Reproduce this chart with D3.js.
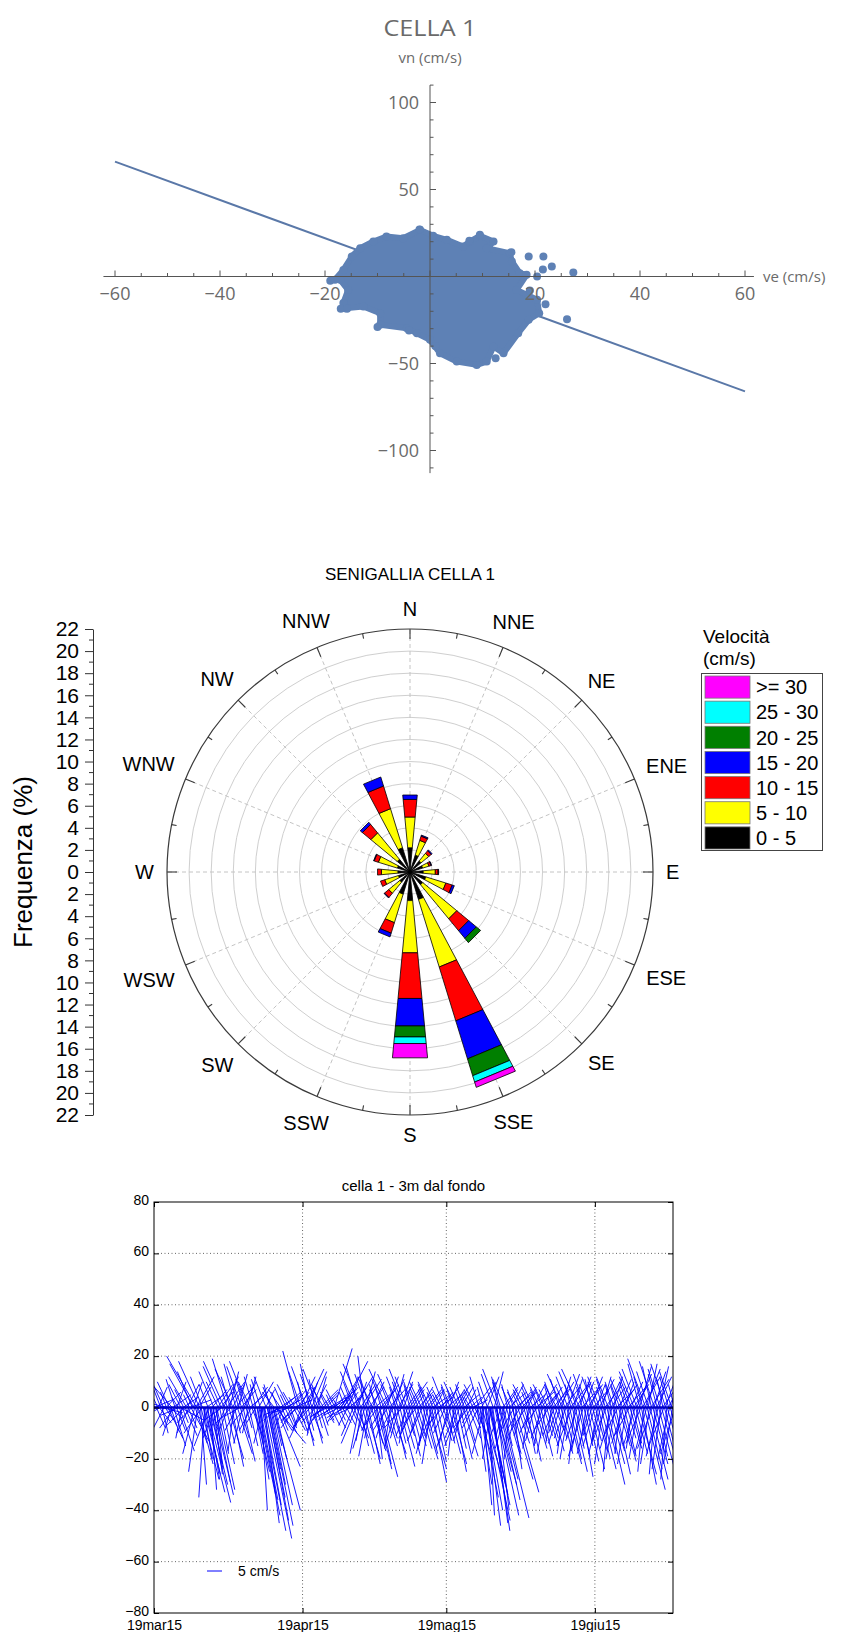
<!DOCTYPE html>
<html>
<head>
<meta charset="utf-8">
<script src="https://cdn.jsdelivr.net/npm/d3@7"></script>
<style>
  body { margin: 0; background: #fff; }
  svg { display: block; }
</style>
</head>
<body>
<div id="chart"></div>
<script>
// ---------- scatter data (cm/s) ----------
var cloudOutline = [
  [-18.1,-1.9],[-16.5,3.8],[-14.9,11.5],[-13.3,16.3],[-10.8,20.1],[-8.3,23.0],[-5.1,22.0],
  [-1.9,26.8],[0.6,23.4],[3.2,21.1],[6.3,17.2],[7.6,20.1],[9.5,23.4],[12.1,20.1],[10.8,16.3],
  [15.2,13.4],[15.6,8.6],[17.1,1.9],[18.4,1.0],[16.5,-7.7],[20.4,-13.4],[20.8,-21.1],[18.8,-24.9],
  [16.8,-32.6],[14.0,-44.1],[12.1,-40.2],[10.8,-48.9],[8.9,-50.8],[5.1,-48.9],[1.9,-44.1],
  [0,-36.4],[-2.5,-32.6],[-4.4,-29.7],[-9.5,-27.8],[-9.5,-21.1],[-12.7,-17.2],[-16.2,-18.2],
  [-16.5,-15.3],[-15.6,-7.7],[-17.1,-1.9]
];
var outlierDots = [
  [18.8,11.5],[21.6,11.5],[23.2,5.7],[21.5,4],[27.3,2.3],[20.4,0],[26.1,-24.5],[19,-8],[22,-16],
  [-19,-2.5],[-17,-18.5],[-15.8,-18.5],[12.5,-47],[-10,-29],[-4,-31],[1,-40],[9.5,24],[7.5,20.5],
  [-2,27],[15.5,14]
];
var fitLineVe = [-60, 60];
var fitLineVn = [66, -66];
var scatterXTicks = [-60, -40, -20, 20, 40, 60];
var scatterYTicks = [100, 50, -50, -100];

// ---------- wind rose data (% per direction and speed class) ----------
var directions = ["N","NNE","NE","ENE","E","ESE","SE","SSE","S","SSW","SW","WSW","W","WNW","NW","NNW"];
var speedKeys = ["0 - 5","5 - 10","10 - 15","15 - 20","20 - 25","25 - 30",">= 30"];
var speedColors = ["#000000","#ffff00","#ff0000","#0000ff","#007f00","#00ffff","#ff00ff"];
var freq0_5   = [2.2, 1.6, 1.3, 1.2, 1.2, 1.5, 1.5, 2.6, 2.6, 2.1, 1.2, 1.1, 1.1, 1.2, 1.5, 2.3];
var freq5_10  = [2.8, 1.4, 0.9, 0.6, 1.1, 1.9, 4.0, 6.4, 4.75, 2.7, 1.3, 1.3, 1.5, 1.8, 3.1, 3.7];
var freq10_15 = [1.6, 0.4, 0.3, 0.2, 0.25, 0.6, 1.4, 5.1, 4.15, 1.0, 0.5, 0.4, 0.35, 0.4, 1.0, 2.15];
var freq15_20 = [0.4, 0.1, 0.1, 0.05, 0.05, 0.2, 0.9, 3.6, 2.5, 0.35, 0.05, 0, 0, 0.05, 0.25, 0.85];
var freq20_25 = [0, 0, 0, 0, 0, 0, 0.5, 1.6, 1.0, 0, 0, 0, 0, 0, 0, 0];
var freq25_30 = [0, 0, 0, 0, 0, 0, 0, 0.6, 0.6, 0, 0, 0, 0, 0, 0, 0];
var freqGe30  = [0, 0, 0, 0, 0, 0, 0, 0.5, 1.3, 0, 0, 0, 0, 0, 0, 0];

// ---------- stick plot data: [day from 19mar15, ve, vn] ----------
var timeTickDates = ["2015-03-19","2015-04-19","2015-05-19","2015-06-19"];
var timeTickLabels = ["19mar15","19apr15","19mag15","19giu15"];
var sticks = [
[0.2,-4,7],[0.5,3,-8],[0.8,-2,5],[1.1,4,-6],[1.4,-3,9],[1.7,2,-10],[2.0,-5,13],[2.3,3,-5],[2.6,-2,6],[2.9,5,-12],
[3.2,-4,10],[3.5,2,-7],[3.8,-6,8],[4.1,4,-15],[4.4,-3,11],[4.7,3,-9],[5.0,-2,4],[5.3,5,-17],[5.6,-4,9],[5.9,2,-6],
[6.2,-3,7],[6.5,4,-11],[6.8,-6,12],[7.1,3,-8],[7.4,-2,5],[7.7,6,-13],[8.0,-5,14],
[8.3,-8,17],[8.6,4,-14],[8.9,-10,20],[9.2,5,-22],[9.5,-7,18],[9.8,6,-28],[10.1,-4,12],[10.4,7,-33],[10.7,5,-26],[11.0,8,-37],
[11.3,-3,9],[11.6,6,-30],[11.9,4,-24],[12.2,7,-34],[12.5,-5,14],[12.8,5,-29],[13.1,6,-32],[13.4,-4,10],[13.7,3,-18],[14.0,-6,16],[14.3,4,-22],
[14.7,-7,18],[15.0,3,-14],[15.3,-5,19],[15.6,5,-20],[15.9,-3,12],[16.2,4,-23],[16.5,-6,15],[16.8,2,-10],[17.1,-4,17],[17.4,5,-18],
[17.7,-2,8],[18.0,3,-12],[18.3,-5,16],[18.6,4,-21],[18.9,-3,11],[19.2,2,-8],[19.5,-6,18],[19.8,3,-15],
[20.1,-4,10],[20.4,4,-12],[20.7,-3,12],[21.0,5,-25],[21.3,-2,9],[21.6,6,-34],[21.9,7,-42],[22.2,-3,11],[22.5,8,-48],[22.8,6,-38],
[23.1,9,-51],[23.4,-4,12],[23.7,7,-44],[24.0,8,-46],[24.3,5,-30],[24.6,-3,8],[24.9,9,-40],[25.2,4,-20],[25.5,8,-23],[25.8,-2,6],
[26.1,3,-9],[26.4,-4,7],[26.7,2,-6],[27.0,-3,8],[27.3,4,-10],[27.6,-2,5],[27.9,3,-8],[28.2,-4,9],[28.5,2,-7],[28.8,-3,6],
[29.1,4,-9],[29.4,-2,4],[29.7,3,-6],
[30.0,-5,22],[30.3,3,-10],[30.6,-4,14],[30.9,4,-13],[31.2,-2,10],[31.5,3,-15],[31.8,-5,16],[32.1,2,-9],[32.4,-3,17],[32.7,4,-12],
[33.0,-4,13],[33.3,3,-14],[33.6,-2,11],[33.9,2,-8],[34.2,-5,15],[34.5,3,-11],[34.8,-3,9],[35.1,2,-7],[35.4,-4,8],[35.7,3,-6],[36.0,-2,5],
[36.3,2,-5],[36.6,-3,6],[36.9,3,-7],[37.2,-2,5],[37.6,6,23],[37.8,-3,7],[38.1,3,-8],[38.4,-2,4],[38.7,2,-5],[39.0,6,12],
[39.3,3,-6],[39.6,8,18],[39.9,-2,6],[40.2,3,-7],[40.5,3,9],[40.8,-3,8],[41.1,2,-5],
[41.4,-3,10],[41.7,3,-9],[42.0,-5,14],[42.3,4,-12],[42.6,-4,16],[42.9,3,-15],[43.2,-6,17],[43.5,4,-18],[43.8,-2,20],[44.1,5,-20],
[44.4,-4,13],[44.7,4,-22],[45.0,-3,11],[45.3,5,-17],[45.6,-5,12],[45.9,3,-14],[46.2,-2,9],[46.5,5,-24],[46.8,-3,7],[47.1,6,-27],[47.4,-2,8],
[47.7,3,-10],[48.0,-4,11],[48.3,4,-15],[48.6,-6,15],[48.9,3,-12],[49.2,-3,9],[49.5,5,-18],[49.8,-5,13],[50.1,4,-20],[50.4,-2,8],
[50.7,3,-14],[51.0,-4,12],[51.3,5,-23],[51.6,-3,10],[51.9,4,-16],[52.2,-5,15],[52.5,3,-11],[52.8,-4,12],[53.1,4,-19],[53.4,-2,9],
[53.7,3,-13],[54.0,-3,10],[54.3,4,-15],[54.6,-2,6],
[54.9,3,-12],[55.2,-3,8],[55.5,4,-16],[55.8,-4,10],[56.1,5,-20],[56.4,-2,7],[56.7,4,-18],[57.0,-3,9],[57.3,6,-24],[57.6,-4,10],
[57.9,5,-29],[58.2,-2,6],[58.5,4,-21],[58.8,-3,8],[59.1,3,-15],[59.4,-2,5],[59.7,4,-13],[60.0,-3,7],[60.3,3,-10],
[60.6,-4,12],[60.9,3,-14],[61.2,-2,8],[61.5,4,-18],[61.8,-3,9],[62.1,5,-22],[62.4,-2,7],[62.7,4,-25],[63.0,-4,10],[63.3,3,-16],
[63.6,-3,8],[63.9,4,-20],[64.2,-2,6],[64.5,5,-19],[64.8,-3,9],[65.1,3,-13],[65.4,-2,5],[65.7,4,-12],[66.0,-2,4],[66.3,3,-8],[66.6,-3,7],
[66.9,4,-10],[67.2,-4,9],[67.5,5,-20],[67.8,-3,12],[68.1,6,-35],[68.4,7,-28],[68.7,-2,8],[69.0,6,-40],[69.3,8,-44],[69.6,-3,10],
[69.9,7,-38],[70.2,5,-30],[70.5,6,-48],[70.8,-4,13],[71.1,8,-42],[71.4,5,-25],[71.7,-5,15],[72.0,7,-36],[72.3,-3,12],[72.6,9,-43],
[72.9,3,-15],[73.2,-4,11],[73.5,5,-20],[73.8,-2,9],[74.1,4,-18],[74.4,-3,8],[74.7,7,-28],[75.0,-2,7],[75.3,8,-33],[75.6,-3,6],
[75.9,4,-14],[76.2,-2,5],
[76.5,3,-10],[76.8,-3,7],[77.1,4,-14],[77.4,-4,9],[77.7,3,-18],[78.0,-2,6],[78.3,4,-21],[78.6,-3,8],[78.9,3,-12],[79.2,-4,10],
[79.5,4,-16],[79.8,-2,7],[80.1,3,-13],[80.4,-3,8],[80.7,4,-19],[81.0,-2,6],[81.3,3,-11],[81.6,-4,9],[81.9,4,-15],[82.2,-3,7],
[82.5,3,-12],[82.8,-2,8],[83.1,4,-17],[83.4,-3,10],[83.7,3,-9],[84.0,-4,9],
[84.3,3,-12],[84.6,-3,11],[84.9,4,-18],[85.2,-5,13],[85.5,3,-14],[85.8,-3,8],[86.1,5,-22],[86.4,-4,12],[86.7,4,-20],[87.0,-2,9],
[87.3,5,-25],[87.6,-5,14],[87.9,3,-16],[88.2,-3,10],[88.5,4,-19],[88.8,-6,15],[89.1,4,-27],[89.4,-2,8],[89.7,3,-15],[90.0,-4,13],
[90.3,4,-21],[90.6,-3,9],[90.9,5,-24],[91.2,-2,11],[91.5,3,-13],[91.8,-4,12],[92.1,4,-17],
[92.4,-3,10],[92.7,4,-20],[93.0,-4,12],[93.3,5,-24],[93.6,-2,8],[93.9,4,-18],[94.2,-3,11],[94.5,6,-30],[94.8,-4,12],[95.1,5,-22],
[95.4,-2,9],[95.7,4,-17],[96.0,-3,10],[96.3,5,-26],[96.6,-2,8],[96.9,4,-15],[97.2,-3,9],[97.5,5,-21],[97.8,-4,11],[98.1,4,-19],
[98.4,-2,7],[98.7,3,-12],[99.0,-3,10],[99.3,4,-16],[99.6,-4,12],[99.9,3,-14],[100.2,-5,14],
[100.5,4,-18],[100.8,-5,15],[101.1,6,-26],[101.4,-4,17],[101.7,5,-30],[102.0,-3,12],[102.3,7,-32],[102.6,-6,19],[102.9,5,-24],[103.2,-4,14],
[103.5,6,-28],[103.8,-3,16],[104.1,5,-22],[104.4,-5,18],[104.7,4,-19],[105.0,-3,13],[105.3,6,-27],[105.6,-4,15],[105.9,5,-21],[106.2,-2,11],
[106.5,7,-31],[106.8,-5,17],[107.1,6,-25],[107.4,-3,12],[107.7,8,-30],[108.0,-4,14],[108.3,5,-20],[108.6,-2,9],[108.9,6,-22]
];
// second pass of readings in between (shorter, other orientations)
var sticksMid = [
[0.1,6,3],[0.4,-5,-6],[0.9,3,8],[1.3,-6,-4],[1.6,7,-2],[2.1,-4,-9],[2.5,5,6],[2.8,-7,2],[3.3,4,-4],[3.7,-3,-11],[4.0,6,5],
[4.3,-5,-8],[4.8,3,10],[5.2,-6,-3],[5.5,8,-5],[5.8,-2,-12],[6.1,5,4],[6.4,-6,-7],[6.9,4,9],[7.3,-4,-10],[7.6,7,3],[7.9,-5,-6],
[8.2,3,10],[8.5,-4,-18],[8.8,6,12],[9.1,-3,-25],[9.4,4,8],[9.7,2,-30],[10.0,-6,-10],[10.3,3,-20],[10.6,-2,-35],[10.9,6,5],
[11.2,4,-28],[11.5,-5,-15],[11.8,2,-32],[12.1,5,7],[12.4,3,-26],[12.7,-4,-12],[13.0,2,-22],[13.3,5,9],[13.6,-3,-9],[13.9,4,6],[14.2,-6,-5],[14.5,5,12],
[14.9,-3,-8],[15.2,6,10],[15.5,-4,-12],[15.8,3,14],[16.1,-5,-6],[16.4,4,9],[16.7,-2,-17],[17.0,6,8],[17.3,-4,-9],[17.6,3,13],
[17.9,-6,-4],[18.2,5,7],[18.5,-3,-14],[18.8,4,10],[19.1,-5,-7],[19.4,3,12],[19.7,-2,-10],[20.0,6,6],
[20.3,-4,-9],[20.6,5,8],[20.9,3,-18],[21.2,-3,-6],[21.5,4,-28],[21.8,5,10],[22.1,6,-36],[22.4,2,-40],[22.7,-3,-14],[23.0,5,-45],
[23.3,3,7],[23.6,6,-35],[23.9,4,-24],[24.2,-2,9],[24.5,7,-38],[24.8,3,-15],[25.1,-4,6],[25.4,10,-14],[25.7,5,-9],
[26.0,-5,-5],[26.3,5,4],[26.6,-6,-3],[26.9,6,6],[27.2,-3,-7],[27.5,5,3],[27.8,-5,-4],[28.1,4,5],[28.4,-6,-2],[28.7,5,7],
[29.0,-4,-6],[29.3,6,3],[29.6,-5,-8],[29.9,4,6],
[30.2,-6,-5],[30.5,5,12],[30.8,-3,-9],[31.1,4,8],[31.4,-5,-12],[31.7,6,15],[32.0,-4,-6],[32.3,3,10],[32.6,-6,-8],[32.9,5,14],
[33.2,-2,-11],[33.5,4,9],[33.8,-5,-6],[34.1,3,12],[34.4,-4,-9],[34.7,6,7],[35.0,-3,-5],[35.3,5,6],[35.6,-5,-4],[35.9,4,5],
[36.2,-5,-3],[36.5,6,4],[36.8,-4,-5],[37.1,5,3],[37.4,-6,-4],[37.7,4,5],[38.0,-3,-6],[38.3,6,7],[38.6,-5,-3],[38.9,4,6],
[39.2,-4,-5],[39.5,5,8],[39.8,-6,-4],[40.1,4,6],[40.4,-3,-7],[40.7,5,5],[41.0,-5,-3],
[41.3,5,8],[41.6,-4,-11],[41.9,6,12],[42.2,-5,-14],[42.5,3,10],[42.8,-3,-18],[43.1,5,9],[43.4,-2,-13],[43.7,6,11],[44.0,-4,-16],
[44.3,3,14],[44.6,-3,-19],[44.9,5,8],[45.2,-2,-12],[45.5,4,10],[45.8,-4,-9],[46.1,6,6],[46.4,2,-20],[46.7,-5,-8],[47.0,4,-22],[47.3,5,7],
[47.6,-4,-8],[47.9,5,9],[48.2,-3,-12],[48.5,4,12],[48.8,-5,-9],[49.1,6,8],[49.4,-2,-15],[49.7,4,11],[50.0,-5,-10],[50.3,3,13],
[50.6,-4,-16],[50.9,5,9],[51.2,-3,-12],[51.5,4,14],[51.8,-6,-8],[52.1,3,10],[52.4,-2,-14],[52.7,5,8],[53.0,-4,-11],[53.3,6,10],
[53.6,-3,-9],[53.9,4,7],[54.2,-5,-12],[54.5,3,5],[54.8,-4,-6],
[55.1,5,6],[55.4,-3,-10],[55.7,4,8],[56.0,-5,-13],[56.3,3,5],[56.6,-2,-15],[56.9,5,7],[57.2,-4,-18],[57.5,4,6],[57.8,-3,-22],
[58.1,6,5],[58.4,-5,-14],[58.7,3,7],[59.0,-4,-11],[59.3,5,4],[59.6,-3,-9],[59.9,4,6],[60.2,-5,-7],
[60.5,5,8],[60.8,-4,-10],[61.1,6,6],[61.4,-3,-14],[61.7,3,10],[62.0,-5,-16],[62.3,4,7],[62.6,-2,-19],[62.9,5,9],[63.2,-4,-12],
[63.5,3,6],[63.8,-5,-15],[64.1,4,8],[64.4,-3,-13],[64.7,5,5],[65.0,-4,-10],[65.3,3,7],[65.6,-5,-8],[65.9,4,4],[66.2,-3,-6],[66.5,5,3],
[66.8,-4,-8],[67.1,5,8],[67.4,3,-25],[67.7,-5,-12],[68.0,4,-30],[68.3,5,10],[68.6,3,-38],[68.9,-4,-18],[69.2,5,-46],[69.5,4,12],
[69.8,2,-42],[70.1,6,-34],[70.4,-3,-20],[70.7,5,-45],[71.0,3,14],[71.3,7,-30],[71.6,4,-40],[71.9,-2,10],[72.2,6,-28],[72.5,-4,-12],
[72.8,5,8],[73.1,-3,-12],[73.4,4,7],[73.7,-4,-16],[74.0,6,6],[74.3,-2,-20],[74.6,4,9],[74.9,3,-24],[75.2,-5,-10],[75.5,5,5],
[75.8,-3,-13],[76.1,4,6],
[76.4,-4,-8],[76.7,5,6],[77.0,-3,-11],[77.3,4,8],[77.6,-5,-9],[77.9,3,7],[78.2,-2,-16],[78.5,5,5],[78.8,-4,-10],[79.1,4,9],
[79.4,-3,-13],[79.7,6,6],[80.0,-5,-8],[80.3,3,7],[80.6,-2,-15],[80.9,5,9],[81.2,-4,-12],[81.5,4,5],[81.8,-3,-18],[82.1,5,8],
[82.4,-5,-9],[82.7,3,6],[83.0,-2,-14],[83.3,5,7],[83.6,-4,-11],[83.9,4,8],[84.2,-3,-10],
[84.5,5,10],[84.8,-4,-14],[85.1,3,12],[85.4,-2,-18],[85.7,5,8],[86.0,-4,-12],[86.3,4,13],[86.6,-3,-20],[86.9,6,9],[87.2,-5,-15],
[87.5,3,11],[87.8,-2,-22],[88.1,5,10],[88.4,-4,-13],[88.7,4,12],[89.0,-3,-17],[89.3,6,8],[89.6,-5,-19],[89.9,3,10],[90.2,-2,-14],
[90.5,5,9],[90.8,-4,-18],[91.1,4,12],[91.4,-3,-11],[91.7,5,7],[92.0,-4,-15],[92.3,3,9],
[92.6,-2,-13],[92.9,5,11],[93.2,-4,-18],[93.5,3,12],[93.8,-3,-22],[94.1,6,9],[94.4,-5,-14],[94.7,4,10],[95.0,-2,-25],[95.3,5,8],
[95.6,-4,-16],[95.9,3,12],[96.2,-3,-20],[96.5,6,7],[96.8,-5,-12],[97.1,4,11],[97.4,-2,-18],[97.7,5,9],[98.0,-4,-14],[98.3,3,10],
[98.6,-3,-22],[98.9,6,8],[99.2,-5,-11],[99.5,4,10],[99.8,-2,-16],[100.1,5,9],
[100.4,-4,-15],[100.7,5,13],[101.0,-3,-20],[101.3,4,16],[101.6,-5,-14],[101.9,6,12],[102.2,-2,-25],[102.5,5,15],[102.8,-4,-18],[103.1,3,17],
[103.4,-3,-22],[103.7,6,11],[104.0,-5,-16],[104.3,4,14],[104.6,-2,-26],[104.9,5,12],[105.2,-4,-19],[105.5,3,16],[105.8,-3,-24],[106.1,6,10],
[106.4,-5,-15],[106.7,4,13],[107.0,-2,-28],[107.3,5,11],[107.6,-4,-20],[107.9,3,15],[108.2,-3,-22],[108.5,6,9],[108.8,-5,-18]
];

// ======================================================================
var width = 862, height = 1632;
var svg = d3.select("#chart").append("svg")
    .attr("width", width)
    .attr("height", height)
    .style("font-family", "'Liberation Sans', Arial, sans-serif");
svg.append("rect").attr("width", width).attr("height", height).attr("fill", "#fff");

// ---------------- 1. scatter ve / vn ----------------
var dotColor = "#5e81b5";
var sx = d3.scaleLinear().domain([-60, 60]).range([115, 745]);
var sy = d3.scaleLinear().domain([100, -100]).range([102.5, 450.5]);
var gS = svg.append("g").style("font-family", "'Open Sans', sans-serif");

gS.append("line")
    .attr("x1", sx(fitLineVe[0])).attr("y1", sy(fitLineVn[0]))
    .attr("x2", sx(fitLineVe[1])).attr("y2", sy(fitLineVn[1]))
    .attr("stroke", "#5a78a8").attr("stroke-width", 2);

var hull = d3.line().x(function(d){ return sx(d[0]); }).y(function(d){ return sy(d[1]); })
    .curve(d3.curveLinearClosed);
gS.append("path").attr("d", hull(cloudOutline)).attr("fill", dotColor)
    .attr("stroke", dotColor).attr("stroke-width", 6).attr("stroke-linejoin", "round");
gS.selectAll(".dot").data(cloudOutline.concat(outlierDots)).enter().append("circle")
    .attr("cx", function(d){ return sx(d[0]); })
    .attr("cy", function(d){ return sy(d[1]); })
    .attr("r", 4).attr("fill", dotColor);

// axes
var axisCol = "#555", labCol = "#6a6a6a";
var y0 = sy(0), x0 = sx(0);
gS.append("line").attr("x1", sx(-62.2)).attr("x2", sx(61.7)).attr("y1", y0).attr("y2", y0)
    .attr("stroke", axisCol).attr("stroke-width", 1);
gS.append("line").attr("y1", sy(110)).attr("y2", sy(-113)).attr("x1", x0).attr("x2", x0)
    .attr("stroke", axisCol).attr("stroke-width", 1);
gS.selectAll(".xt").data(d3.range(-60, 61, 5)).enter().append("line")
    .attr("x1", function(d){ return sx(d); }).attr("x2", function(d){ return sx(d); })
    .attr("y1", y0).attr("y2", function(d){ return y0 - (d % 20 === 0 ? 6 : 3.5); })
    .attr("stroke", axisCol);
gS.selectAll(".yt").data(d3.range(-110, 111, 10)).enter().append("line")
    .attr("y1", function(d){ return sy(d); }).attr("y2", function(d){ return sy(d); })
    .attr("x1", x0).attr("x2", function(d){ return x0 + (d % 50 === 0 ? 6 : 3.5); })
    .attr("stroke", axisCol);
function fmtMinus(v){ return v < 0 ? "\u2212" + Math.abs(v) : String(v); }
gS.selectAll(".xl").data(scatterXTicks).enter().append("text")
    .attr("x", function(d){ return sx(d); }).attr("y", y0 + 23)
    .attr("text-anchor", "middle").attr("font-size", 18).attr("fill", labCol)
    .text(fmtMinus);
gS.selectAll(".yl").data(scatterYTicks).enter().append("text")
    .attr("x", x0 - 11).attr("y", function(d){ return sy(d); }).attr("dy", "0.36em")
    .attr("text-anchor", "end").attr("font-size", 18).attr("fill", labCol)
    .text(fmtMinus);
gS.append("text").attr("x", sx(61.7) + 9).attr("y", y0).attr("dy", "0.35em")
    .attr("font-size", 15).attr("fill", labCol).text("ve (cm/s)");
gS.append("text").attr("x", x0).attr("y", 63).attr("text-anchor", "middle")
    .attr("font-size", 15).attr("fill", labCol).text("vn (cm/s)");
gS.append("text").attr("transform", "translate(" + x0 + ",36) scale(1.2,1)")
    .attr("text-anchor", "middle").attr("font-size", 21).attr("fill", labCol).text("CELLA 1");

// ---------------- 2. wind rose ----------------
var cx = 410, cy = 872, R = 243;
var rr = d3.scaleLinear().domain([0, 22]).range([0, R]);
var gR = svg.append("g");
function pt(r, a){ return [cx + r * Math.sin(a), cy - r * Math.cos(a)]; }
var step = Math.PI / 8;

gR.append("text").attr("x", cx).attr("y", 580).attr("text-anchor", "middle")
    .attr("font-size", 17).text("SENIGALLIA CELLA 1");

// rings + radial dashed lines
gR.selectAll(".ring").data(d3.range(2, 21, 2)).enter().append("circle")
    .attr("cx", cx).attr("cy", cy).attr("r", function(d){ return rr(d); })
    .attr("fill", "none").attr("stroke", "#cfcfcf").attr("stroke-width", 1);
gR.selectAll(".spoke").data(directions).enter().append("line")
    .attr("x1", cx).attr("y1", cy)
    .attr("x2", function(d, i){ return pt(R, i * step)[0]; })
    .attr("y2", function(d, i){ return pt(R, i * step)[1]; })
    .attr("stroke", "#c4c4c4").attr("stroke-dasharray", "4,3");

// stacked sectors
var roseRows = directions.map(function(d, i){
  return {dir: d, "0 - 5": freq0_5[i], "5 - 10": freq5_10[i], "10 - 15": freq10_15[i],
          "15 - 20": freq15_20[i], "20 - 25": freq20_25[i], "25 - 30": freq25_30[i], ">= 30": freqGe30[i]};
});
var layers = d3.stack().keys(speedKeys)(roseRows);
var halfW = 5.4 * Math.PI / 180;
layers.forEach(function(layer, k){
  gR.selectAll(".seg" + k).data(layer.filter(function(d){ return d[1] - d[0] > 0; }))
    .enter().append("path")
    .attr("d", function(d){
      var a = directions.indexOf(d.data.dir) * step;
      var p = [pt(rr(d[0]), a - halfW), pt(rr(d[1]), a - halfW), pt(rr(d[1]), a + halfW), pt(rr(d[0]), a + halfW)];
      return "M" + p.join("L") + "Z";
    })
    .attr("fill", speedColors[k]).attr("stroke", "#000").attr("stroke-width", 0.8)
    .attr("stroke-linejoin", "round");
});

// outer circle and its ticks
gR.append("circle").attr("cx", cx).attr("cy", cy).attr("r", R)
    .attr("fill", "none").attr("stroke", "#3a3a3a").attr("stroke-width", 1.2);
gR.selectAll(".otick").data(d3.range(32)).enter().append("line")
    .attr("x1", function(d){ return pt(R, d * step / 2)[0]; })
    .attr("y1", function(d){ return pt(R, d * step / 2)[1]; })
    .attr("x2", function(d){ return pt(R - (d % 2 ? 5 : 10), d * step / 2)[0]; })
    .attr("y2", function(d){ return pt(R - (d % 2 ? 5 : 10), d * step / 2)[1]; })
    .attr("stroke", "#3a3a3a").attr("stroke-width", 1.1);

// direction labels
var dirLab = gR.selectAll(".dl").data(directions).enter().append("text")
    .attr("font-size", 20).attr("text-anchor", "middle").attr("dy", "0.36em")
    .text(function(d){ return d; });
dirLab.each(function(d, i){
  var a = i * step, w = this.getComputedTextLength();
  var r = 256 + 0.5 * w * Math.abs(Math.sin(a)) + 7.2 * Math.abs(Math.cos(a));
  var p = pt(r, a);
  d3.select(this).attr("x", p[0]).attr("y", p[1]);
});

// frequency axis on the left
var fy = d3.scaleLinear().domain([-22, 22]).range([cy + R, cy - R]);
var gA = gR.append("g").attr("transform", "translate(93,0)")
    .call(d3.axisLeft(fy).tickValues(d3.range(-22, 23, 2)).tickSize(8).tickSizeOuter(0)
      .tickPadding(6).tickFormat(function(d){ return Math.abs(d); }));
gA.selectAll("text").attr("font-size", 21).attr("fill", "#000")
    .style("font-family", "'Liberation Sans', Arial, sans-serif");
gA.selectAll("line, path").attr("stroke", "#333");
gA.selectAll(".minor").data(d3.range(-21, 22, 2)).enter().append("line")
    .attr("x1", -4).attr("x2", 0)
    .attr("y1", function(d){ return fy(d); }).attr("y2", function(d){ return fy(d); })
    .attr("stroke", "#333");
gR.append("text").attr("transform", "translate(32," + (cy - 10) + ") rotate(-90)")
    .attr("text-anchor", "middle").attr("font-size", 26).text("Frequenza (%)");

// legend
var gL = gR.append("g");
gL.append("text").attr("x", 703).attr("y", 643).attr("font-size", 19).text("Velocità");
gL.append("text").attr("x", 703).attr("y", 665).attr("font-size", 19).text("(cm/s)");
gL.append("rect").attr("x", 701.5).attr("y", 673.5).attr("width", 121).attr("height", 177)
    .attr("fill", "#fff").attr("stroke", "#444").attr("stroke-width", 1);
var legendKeys = speedKeys.slice().reverse();
var legendCols = speedColors.slice().reverse();
var ly = d3.scaleBand().domain(legendKeys).range([675, 850]).paddingInner(0.12).paddingOuter(0.04);
gL.selectAll(".lsw").data(legendKeys).enter().append("rect")
    .attr("x", 705).attr("y", function(d){ return ly(d); })
    .attr("width", 45).attr("height", ly.bandwidth())
    .attr("fill", function(d, i){ return legendCols[i]; })
    .attr("stroke", "#777").attr("stroke-width", 0.8);
gL.selectAll(".ltx").data(legendKeys).enter().append("text")
    .attr("x", 756).attr("y", function(d){ return ly(d) + ly.bandwidth() / 2; })
    .attr("dy", "0.36em").attr("font-size", 20).text(function(d){ return d; });

// ---------------- 3. stick plot ----------------
var t0 = Date.UTC(2015, 2, 19);
var dayMs = 86400000;
var pL = 154, pR = 673, pT = 1202, pB = 1613;
var tx = d3.scaleUtc().domain([new Date(t0), new Date(t0 + 108.3 * dayMs)]).range([pL, pR]);
var vy = d3.scaleLinear().domain([-80, 80]).range([pB, pT]);
var stickDx = d3.scaleLinear().domain([0, 5]).range([0, 15]);
var gB = svg.append("g").style("font-family", "'Liberation Sans', Arial, sans-serif");
var tickDates = timeTickDates.map(function(s){ return new Date(s + "T00:00:00Z"); });

svg.append("defs").append("clipPath").attr("id", "plotClip")
  .append("rect").attr("x", pL).attr("y", pT).attr("width", pR - pL).attr("height", pB - pT);

gB.append("text").attr("x", (pL + pR) / 2).attr("y", 1191).attr("text-anchor", "middle")
    .attr("font-size", 15).text("cella 1 - 3m dal fondo");

// dotted grid
gB.selectAll(".gy").data(d3.range(-60, 61, 20)).enter().append("line")
    .attr("x1", pL).attr("x2", pR)
    .attr("y1", function(d){ return vy(d); }).attr("y2", function(d){ return vy(d); })
    .attr("stroke", "#666").attr("stroke-dasharray", "1,2.5");
gB.selectAll(".gx").data(tickDates.slice(1)).enter().append("line")
    .attr("y1", pT).attr("y2", pB)
    .attr("x1", function(d){ return tx(d); }).attr("x2", function(d){ return tx(d); })
    .attr("stroke", "#666").attr("stroke-dasharray", "1,2.5");

// sticks
var gSt = gB.append("g").attr("clip-path", "url(#plotClip)");
gSt.selectAll(".stick").data(sticks.concat(sticksMid)).enter().append("line")
    .attr("x1", function(d){ return tx(new Date(t0 + d[0] * dayMs)); })
    .attr("y1", vy(0))
    .attr("x2", function(d){ return tx(new Date(t0 + d[0] * dayMs)) + stickDx(d[1]); })
    .attr("y2", function(d){ return vy(d[2]); })
    .attr("stroke", "#0000ff").attr("stroke-width", 0.9);
gSt.append("line").attr("x1", pL).attr("x2", pR).attr("y1", vy(0)).attr("y2", vy(0))
    .attr("stroke", "#0000c8").attr("stroke-width", 2.5);

// frame and axes
gB.append("rect").attr("x", pL).attr("y", pT).attr("width", pR - pL).attr("height", pB - pT)
    .attr("fill", "none").attr("stroke", "#000");
var axL = gB.append("g").attr("transform", "translate(" + pL + ",0)")
    .call(d3.axisLeft(vy).tickValues(d3.range(-80, 81, 20)).tickSize(-5).tickSizeOuter(0).tickPadding(5));
axL.selectAll("text").attr("dy", "0.18em");
gB.append("g").attr("transform", "translate(0," + pB + ")")
    .call(d3.axisBottom(tx).tickValues(tickDates).tickSize(-5).tickSizeOuter(0).tickPadding(7)
      .tickFormat(function(d, i){ return timeTickLabels[i]; }));
gB.append("g").attr("transform", "translate(" + pR + ",0)")
    .call(d3.axisRight(vy).tickValues(d3.range(-80, 81, 20)).tickSize(-5).tickSizeOuter(0).tickFormat(""));
gB.append("g").attr("transform", "translate(0," + pT + ")")
    .call(d3.axisTop(tx).tickValues(tickDates).tickSize(-5).tickSizeOuter(0).tickFormat(""));
gB.selectAll(".domain").remove();
gB.selectAll(".tick text").attr("font-size", 14).attr("fill", "#000")
    .style("font-family", "'Liberation Sans', Arial, sans-serif");

// scale legend
gB.append("line").attr("x1", 207).attr("x2", 207 + stickDx(5)).attr("y1", 1571).attr("y2", 1571)
    .attr("stroke", "#0000ff").attr("stroke-width", 1);
gB.append("text").attr("x", 238).attr("y", 1571).attr("dy", "0.35em").attr("font-size", 14)
    .text("5 cm/s");
</script>
</body>
</html>
